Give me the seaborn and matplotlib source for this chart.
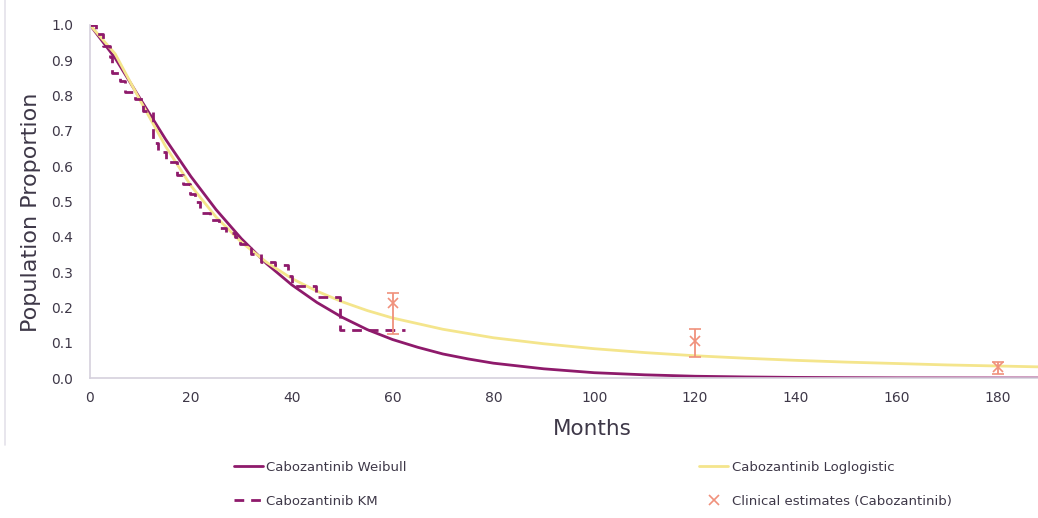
import numpy as np
import pandas as pd
import matplotlib
matplotlib.use("Agg")
import matplotlib.pyplot as plt
from matplotlib.lines import Line2D
import seaborn as sns

# Weibull fitted curve
weibull_t = [0, 5, 10, 15, 20, 25, 30, 35, 40, 45, 50, 55, 60, 65, 70, 75, 80,
             90, 100, 110, 120, 130, 140, 150, 160, 170, 180, 190]
weibull_s = [1.0, 0.906, 0.790, 0.676, 0.571, 0.477, 0.395, 0.324, 0.264, 0.214,
             0.172, 0.137, 0.109, 0.087, 0.068, 0.054, 0.042, 0.026, 0.015, 0.009,
             0.005, 0.003, 0.0017, 0.001, 0.0005, 0.0003, 0.0001, 0.0]

# Loglogistic fitted curve
loglog_t = [0, 5, 10, 15, 20, 25, 30, 35, 40, 45, 50, 55, 60, 70, 80, 90, 100,
            110, 120, 130, 140, 150, 160, 170, 180, 190]
loglog_s = [1.0, 0.918, 0.785, 0.656, 0.545, 0.456, 0.385, 0.328, 0.282, 0.246,
            0.216, 0.191, 0.170, 0.138, 0.114, 0.097, 0.083, 0.072, 0.063, 0.056,
            0.050, 0.045, 0.041, 0.037, 0.034, 0.031]

# Kaplan-Meier steps
km_t = [0, 1.2, 2.5, 4.0, 4.4, 6.0, 7.0, 9.0, 10.5, 12.5, 13.5, 15.0, 17.2, 18.5,
        19.8, 20.8, 21.8, 23.8, 25.5, 27.0, 28.8, 29.8, 32.0, 34.0, 36.7, 39.3,
        40.0, 44.8, 49.6, 62.5]
km_s = [1.0, 0.975, 0.94, 0.91, 0.864, 0.84, 0.81, 0.79, 0.755, 0.665, 0.64, 0.612,
        0.575, 0.55, 0.52, 0.50, 0.467, 0.447, 0.425, 0.41, 0.40, 0.38, 0.35, 0.33,
        0.32, 0.29, 0.26, 0.23, 0.136, 0.136]

# Clinical estimates with ranges
clin_t = [60, 120, 180]
clin_s = [0.212, 0.105, 0.030]
clin_lo = [0.124, 0.060, 0.010]
clin_hi = [0.240, 0.138, 0.045]

purple = "#8E1A6B"
yellow = "#F4E58C"
salmon = "#F0917C"
text_col = "#3E3848"
axis_col = "#D5D1DD"

sns.set_style("white")
plt.rcParams["font.family"] = ["DejaVu Sans"]

fig = plt.figure(figsize=(10.38, 5.18), dpi=100)
ax = fig.add_axes([90 / 1038, 1 - 378 / 518, 1 - 90 / 1038, (378 - 25) / 518])

sns.lineplot(x=weibull_t, y=weibull_s, ax=ax, color=purple, lw=2.0,
             sort=False, estimator=None, label="Cabozantinib Weibull")
sns.lineplot(x=loglog_t, y=loglog_s, ax=ax, color=yellow, lw=2.0,
             sort=False, estimator=None, label="Cabozantinib Loglogistic")
sns.lineplot(x=km_t, y=km_s, ax=ax, color=purple, lw=2.0, drawstyle="steps-post",
             linestyle=(0, (3.5, 2.5)), sort=False, estimator=None,
             label="Cabozantinib KM")

yerr = [np.array(clin_s) - np.array(clin_lo), np.array(clin_hi) - np.array(clin_s)]
ax.errorbar(clin_t, clin_s, yerr=yerr, fmt="x", color=salmon, ms=7, mew=1.2,
            elinewidth=1.3, capsize=4, capthick=1.3)

if ax.legend_:
    ax.legend_.remove()

ax.set_xlim(0, 188)
ax.set_ylim(0, 1.0)
ax.set_xticks(range(0, 181, 20))
ax.set_yticks(np.arange(0, 1.01, 0.1))
ax.set_yticklabels([f"{v:.1f}" for v in np.arange(0, 1.01, 0.1)])
ax.tick_params(axis="y", length=0, labelsize=10, colors=text_col, pad=12)
ax.tick_params(axis="x", length=0, labelsize=10, colors=text_col, pad=9)
ax.set_xlabel("Months", fontsize=15.5, color=text_col)
ax.set_ylabel("Population Proportion", fontsize=16, color=text_col)
ax.xaxis.set_label_coords(0.53, -0.115)
ax.yaxis.set_label_coords(-0.052, 0.47)

for side in ["top", "right"]:
    ax.spines[side].set_visible(False)
for side in ["left", "bottom"]:
    ax.spines[side].set_color(axis_col)
    ax.spines[side].set_linewidth(1.2)

handles = [
    Line2D([], [], color=purple, lw=2.0),
    Line2D([], [], color=purple, lw=2.0, linestyle=(0, (3.5, 2.5))),
    Line2D([], [], color=yellow, lw=2.0),
    Line2D([], [], color=salmon, marker="x", linestyle="none", ms=7, mew=1.2),
]
labels = ["Cabozantinib Weibull", "Cabozantinib KM",
          "Cabozantinib Loglogistic", "Clinical estimates (Cabozantinib)"]
leg = fig.legend(handles, labels, ncol=2, loc="center",
                 bbox_to_anchor=(0.571, 0.065), frameon=False, fontsize=9.5,
                 handlelength=2.2, handletextpad=0.25, labelspacing=1.55,
                 columnspacing=22.2)
for t in leg.get_texts():
    t.set_color(text_col)

# thin border line at left of the slide
fig.add_artist(Line2D([5 / 1038, 5 / 1038], [0.14, 1.0], color="#E4E2EA", lw=1.2))

fig.savefig("out.png", dpi=100)
